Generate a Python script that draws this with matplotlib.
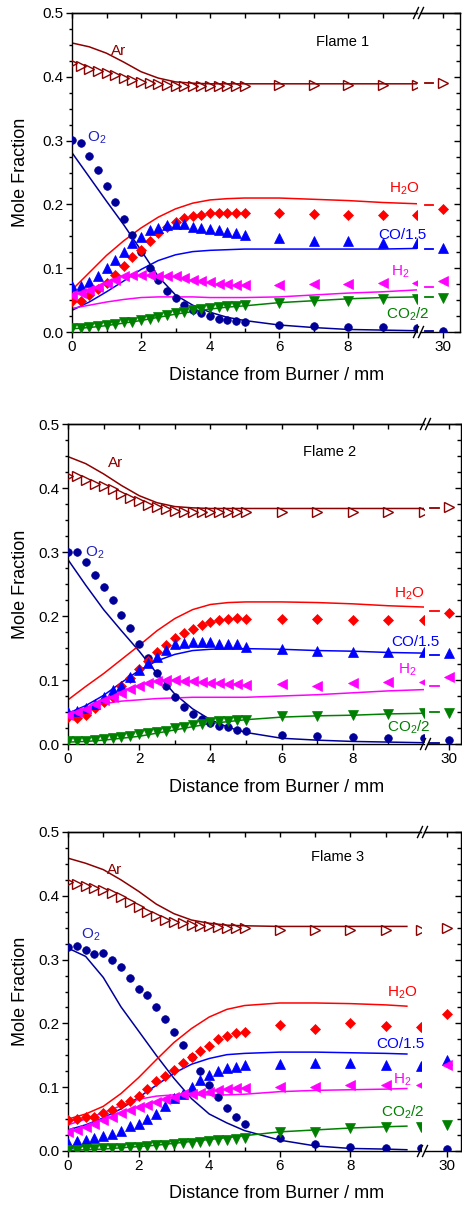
import matplotlib.pyplot as plt
from matplotlib.ticker import FixedLocator, MultipleLocator, FormatStrFormatter
from matplotlib.lines import Line2D

plt.rcParams['font.family'] = ['Liberation Sans', 'DejaVu Sans']
plt.rcParams['mathtext.fontset'] = 'custom'
plt.rcParams['mathtext.rm'] = 'Liberation Sans'
plt.rcParams['mathtext.it'] = 'Liberation Sans:italic'
plt.rcParams['mathtext.bf'] = 'Liberation Sans:bold'
plt.rcParams['axes.linewidth'] = 1.0

W, H = 462, 1207

# measured positions (mm), the last point is the one behind the axis break
x_exp = [0, 0.25, 0.5, 0.75, 1, 1.25, 1.5, 1.75, 2, 2.25, 2.5, 2.75, 3, 3.25, 3.5,
         3.75, 4, 4.25, 4.5, 4.75, 5, 6, 7, 8, 9, 10, 30]

# ---- Flame 1, measured
ar_exp1 = [0.421, 0.417, 0.413, 0.409, 0.406, 0.403, 0.398, 0.395, 0.392, 0.390, 0.388, 0.387, 0.386, 0.386,
           0.386, 0.386, 0.386, 0.386, 0.386, 0.386, 0.386, 0.387, 0.387, 0.387, 0.387, 0.387, 0.390]
o2_exp1 = [0.301, 0.296, 0.276, 0.254, 0.229, 0.203, 0.177, 0.152, 0.126, 0.101, 0.082, 0.064, 0.053, 0.042,
           0.034, 0.029, 0.025, 0.021, 0.019, 0.017, 0.016, 0.011, 0.009, 0.008, 0.008, 0.006, 0.002]
h2o_exp1 = [0.048, 0.049, 0.058, 0.067, 0.077, 0.089, 0.103, 0.117, 0.128, 0.142, 0.155, 0.165, 0.173, 0.178,
            0.182, 0.184, 0.186, 0.186, 0.186, 0.187, 0.186, 0.186, 0.185, 0.183, 0.184, 0.184, 0.193]
co_exp1 = [0.072, 0.072, 0.079, 0.088, 0.100, 0.113, 0.126, 0.139, 0.149, 0.160, 0.163, 0.168, 0.170, 0.170,
           0.165, 0.163, 0.161, 0.160, 0.157, 0.155, 0.152, 0.147, 0.143, 0.142, 0.140, 0.139, 0.132]
h2_exp1 = [0.058, 0.061, 0.066, 0.071, 0.077, 0.081, 0.087, 0.089, 0.089, 0.089, 0.088, 0.087, 0.087, 0.084,
           0.081, 0.080, 0.079, 0.076, 0.075, 0.074, 0.074, 0.074, 0.075, 0.076, 0.077, 0.077, 0.080]
co2_exp1 = [0.007, 0.007, 0.008, 0.009, 0.011, 0.012, 0.015, 0.016, 0.019, 0.021, 0.024, 0.027, 0.029, 0.032,
            0.034, 0.036, 0.037, 0.039, 0.040, 0.041, 0.042, 0.045, 0.048, 0.049, 0.051, 0.052, 0.054]

# ---- Flame 2, measured
ar_exp2 = [0.419, 0.418, 0.412, 0.407, 0.403, 0.398, 0.391, 0.384, 0.379, 0.373, 0.371, 0.367, 0.364, 0.363,
           0.363, 0.363, 0.363, 0.363, 0.363, 0.363, 0.363, 0.363, 0.363, 0.363, 0.363, 0.363, 0.370]
o2_exp2 = [0.300, 0.300, 0.284, 0.264, 0.246, 0.225, 0.202, 0.181, 0.156, 0.134, 0.111, 0.090, 0.073, 0.058,
           0.047, 0.039, 0.033, 0.028, 0.026, 0.022, 0.020, 0.014, 0.013, 0.011, 0.010, 0.010, 0.006]
h2o_exp2 = [0.042, 0.040, 0.045, 0.056, 0.065, 0.074, 0.090, 0.103, 0.117, 0.130, 0.143, 0.155, 0.165, 0.174,
            0.179, 0.186, 0.190, 0.193, 0.196, 0.197, 0.196, 0.196, 0.195, 0.194, 0.194, 0.194, 0.205]
co_exp2 = [0.050, 0.052, 0.057, 0.063, 0.073, 0.084, 0.091, 0.104, 0.116, 0.127, 0.136, 0.147, 0.156, 0.158,
           0.160, 0.160, 0.160, 0.157, 0.157, 0.157, 0.152, 0.148, 0.146, 0.144, 0.144, 0.143, 0.142]
h2_exp2 = [0.045, 0.050, 0.055, 0.062, 0.068, 0.074, 0.080, 0.086, 0.091, 0.096, 0.099, 0.100, 0.100, 0.099,
           0.098, 0.097, 0.096, 0.095, 0.094, 0.093, 0.092, 0.093, 0.091, 0.096, 0.097, 0.097, 0.104]
co2_exp2 = [0.004, 0.004, 0.005, 0.006, 0.008, 0.009, 0.011, 0.013, 0.015, 0.017, 0.019, 0.021, 0.025, 0.027,
            0.030, 0.032, 0.035, 0.036, 0.036, 0.038, 0.038, 0.043, 0.044, 0.045, 0.047, 0.048, 0.049]

# ---- Flame 3, measured
ar_exp3 = [0.421, 0.418, 0.415, 0.413, 0.409, 0.404, 0.398, 0.391, 0.383, 0.375, 0.368, 0.362, 0.359, 0.357,
           0.354, 0.353, 0.352, 0.351, 0.350, 0.349, 0.349, 0.346, 0.346, 0.346, 0.346, 0.346, 0.349]
o2_exp3 = [0.320, 0.322, 0.315, 0.309, 0.310, 0.300, 0.288, 0.271, 0.254, 0.245, 0.226, 0.207, 0.187, 0.166,
           0.147, 0.125, 0.103, 0.084, 0.068, 0.054, 0.043, 0.020, 0.011, 0.007, 0.005, 0.004, 0.003]
h2o_exp3 = [0.048, 0.050, 0.053, 0.054, 0.060, 0.064, 0.074, 0.078, 0.086, 0.097, 0.109, 0.118, 0.127, 0.138,
            0.148, 0.156, 0.164, 0.175, 0.180, 0.185, 0.187, 0.198, 0.192, 0.200, 0.196, 0.195, 0.215]
co_exp3 = [0.012, 0.016, 0.018, 0.021, 0.024, 0.027, 0.031, 0.039, 0.043, 0.050, 0.058, 0.071, 0.083, 0.090,
           0.100, 0.111, 0.119, 0.126, 0.130, 0.132, 0.135, 0.136, 0.138, 0.138, 0.135, 0.134, 0.142]
h2_exp3 = [0.030, 0.033, 0.038, 0.042, 0.049, 0.054, 0.059, 0.064, 0.069, 0.072, 0.077, 0.081, 0.085, 0.089,
           0.090, 0.091, 0.093, 0.096, 0.097, 0.098, 0.098, 0.100, 0.101, 0.103, 0.103, 0.103, 0.135]
co2_exp3 = [0.002, 0.002, 0.003, 0.003, 0.004, 0.004, 0.005, 0.006, 0.007, 0.008, 0.009, 0.010, 0.011, 0.012,
            0.013, 0.014, 0.015, 0.017, 0.018, 0.019, 0.021, 0.029, 0.030, 0.036, 0.037, 0.038, 0.041]

# ---- model curves
x_mod = [0, 0.5, 1, 1.5, 2, 2.5, 3, 3.5, 4, 4.5, 5, 6, 7, 8, 9, 10]
x_mod3 = [0, 0.5, 1, 1.5, 2, 2.5, 3, 3.5, 4, 4.5, 5, 6, 7, 8, 9, 9.6]

ar_mod1 = [0.453, 0.447, 0.437, 0.423, 0.408, 0.398, 0.392, 0.390, 0.389, 0.389, 0.389, 0.389, 0.389, 0.389, 0.389, 0.389]
o2_mod1 = [0.281, 0.243, 0.205, 0.168, 0.128, 0.087, 0.058, 0.042, 0.031, 0.023, 0.018, 0.011, 0.007, 0.004, 0.003, 0.002]
h2o_mod1 = [0.066, 0.093, 0.120, 0.143, 0.163, 0.180, 0.193, 0.202, 0.207, 0.209, 0.210, 0.210, 0.208, 0.206, 0.203, 0.201]
co_mod1 = [0.034, 0.047, 0.063, 0.080, 0.098, 0.112, 0.121, 0.126, 0.128, 0.129, 0.130, 0.130, 0.130, 0.130, 0.130, 0.131]
h2_mod1 = [0.037, 0.042, 0.047, 0.051, 0.054, 0.055, 0.055, 0.055, 0.054, 0.054, 0.054, 0.055, 0.058, 0.061, 0.063, 0.066]
co2_mod1 = [0.005, 0.007, 0.010, 0.014, 0.018, 0.023, 0.028, 0.032, 0.036, 0.039, 0.041, 0.046, 0.049, 0.052, 0.054, 0.055]

ar_mod2 = [0.449, 0.438, 0.422, 0.404, 0.388, 0.377, 0.371, 0.369, 0.368, 0.368, 0.368, 0.368, 0.368, 0.368, 0.368, 0.368]
o2_mod2 = [0.288, 0.248, 0.210, 0.177, 0.145, 0.110, 0.078, 0.055, 0.038, 0.026, 0.018, 0.009, 0.006, 0.004, 0.003, 0.002]
h2o_mod2 = [0.069, 0.090, 0.110, 0.132, 0.154, 0.177, 0.196, 0.210, 0.218, 0.221, 0.222, 0.222, 0.221, 0.219, 0.216, 0.214]
co_mod2 = [0.048, 0.060, 0.076, 0.096, 0.115, 0.130, 0.140, 0.146, 0.148, 0.149, 0.149, 0.148, 0.146, 0.145, 0.143, 0.142]
h2_mod2 = [0.045, 0.055, 0.063, 0.067, 0.069, 0.071, 0.072, 0.073, 0.073, 0.073, 0.073, 0.075, 0.077, 0.080, 0.083, 0.085]
co2_mod2 = [0.003, 0.004, 0.006, 0.009, 0.012, 0.017, 0.022, 0.027, 0.032, 0.035, 0.038, 0.042, 0.044, 0.045, 0.047, 0.048]

ar_mod3 = [0.459, 0.451, 0.441, 0.425, 0.407, 0.387, 0.372, 0.362, 0.357, 0.354, 0.353, 0.352, 0.352, 0.352, 0.352, 0.352]
o2_mod3 = [0.318, 0.305, 0.272, 0.226, 0.188, 0.150, 0.114, 0.082, 0.058, 0.044, 0.032, 0.017, 0.008, 0.004, 0.003, 0.002]
h2o_mod3 = [0.050, 0.058, 0.070, 0.090, 0.115, 0.143, 0.170, 0.192, 0.210, 0.222, 0.228, 0.232, 0.232, 0.231, 0.229, 0.227]
co_mod3 = [0.033, 0.041, 0.052, 0.066, 0.084, 0.103, 0.122, 0.136, 0.145, 0.151, 0.153, 0.155, 0.155, 0.154, 0.153, 0.152]
h2_mod3 = [0.041, 0.050, 0.060, 0.071, 0.081, 0.086, 0.088, 0.088, 0.088, 0.088, 0.089, 0.093, 0.095, 0.096, 0.097, 0.098]
co2_mod3 = [0.001, 0.002, 0.003, 0.005, 0.007, 0.009, 0.012, 0.015, 0.018, 0.021, 0.024, 0.030, 0.033, 0.036, 0.038, 0.039]

# model value shown as a short dash behind the break (flames 1 and 2)
dash_x = [29.48, 29.72]
mod_end1 = [0.390, 0.001, 0.199, 0.130, 0.070, 0.055]
mod_end2 = [0.368, 0.001, 0.208, 0.139, 0.091, 0.0495]

species = ['Ar', 'O2', 'H2O', 'CO', 'H2', 'CO2']
names = ['Ar', 'O$_2$', 'H$_2$O', 'CO/1.5', 'H$_2$', 'CO$_2$/2']
colors = ['#8b0000', '#000099', '#ff0000', '#0000ff', '#ff00ff', '#008000']
label_colors = ['#8b0000', '#2020c0', '#ff0000', '#0000ff', '#ff00ff', '#008000']
markers = ['>', 'o', 'D', '^', '<', 'v']
msizes = [6.5, 5.5, 5.5, 6.5, 6.5, 6.5]

# label positions (mm, mole fraction at baseline)
lab1 = [(1.35, 0.434), (0.72, 0.298), (9.62, 0.218), (9.57, 0.145), (9.51, 0.089), (9.74, 0.0215)]
lab2 = [(1.35, 0.433), (0.74, 0.293), (9.58, 0.229), (9.75, 0.153), (9.54, 0.110), (9.58, 0.019)]
lab3 = [(1.33, 0.434), (0.64, 0.333), (9.46, 0.242), (9.42, 0.161), (9.48, 0.106), (9.49, 0.054)]

fig = plt.figure(figsize=(W / 100, H / 100), dpi=100)


def fig_line(xs, ys):
    # pixel coordinates from the top-left corner
    fig.add_artist(Line2D([x / W for x in xs], [1 - y / H for y in ys],
                          color='black', lw=1.0, transform=fig.transFigure))


def draw_panel(geo, exp, mx, mod, mend, labs, title, title_pos):
    top, bot, x0, pxmm, right, p30 = geo
    end = x0 + 10 * pxmm
    gap = 3
    h = (bot - top) / H
    ax = fig.add_axes([x0 / W, 1 - bot / H, (end - x0) / W, h])
    ax2 = fig.add_axes([(end + gap) / W, 1 - bot / H, (right - end - gap) / W, h])
    ax.set_xlim(0, 10)
    ax2.set_xlim(30 - (p30 - end - gap) / pxmm, 30 + (right - p30) / pxmm)
    for a in (ax, ax2):
        a.set_ylim(0, 0.5)
        a.patch.set_alpha(0)

    for i in range(len(species)):
        c = colors[i]
        face = 'none' if species[i] == 'Ar' else c
        for a in (ax, ax2):
            a.plot(x_exp, exp[i], linestyle='none', marker=markers[i], ms=msizes[i],
                   mfc=face, mec=c, mew=1.0 if face == 'none' else 0.5, zorder=3)
        ax.plot(mx, mod[i], color=c, lw=1.1, zorder=2)
        if mend is not None:
            ax2.plot(dash_x, [mend[i], mend[i]], color=c, lw=1.3, zorder=2)
        ax.text(labs[i][0], labs[i][1], names[i], color=label_colors[i], fontsize=11,
                ha='center', va='baseline', zorder=5)
    ax.text(title_pos[0], title_pos[1], title, fontsize=10.5, ha='center', va='baseline')

    # left part
    ax.spines['right'].set_visible(False)
    ax.xaxis.set_major_locator(FixedLocator([0, 2, 4, 6, 8]))
    ax.xaxis.set_minor_locator(FixedLocator([1, 3, 5, 7, 9]))
    ax.yaxis.set_major_locator(MultipleLocator(0.1))
    ax.yaxis.set_minor_locator(MultipleLocator(0.025))
    ax.yaxis.set_major_formatter(FormatStrFormatter('%.1f'))
    ax.tick_params(axis='x', which='major', direction='out', length=4, width=1, labelsize=11, pad=2)
    ax.tick_params(axis='x', which='minor', direction='in', length=3, width=1)
    ax.tick_params(axis='y', which='major', direction='out', length=4, width=1, labelsize=11, pad=2)
    ax.tick_params(axis='y', which='minor', direction='out', length=2.5, width=1)
    sec = ax.secondary_xaxis('top')
    sec.set_xticks([0, 1, 2, 3, 4, 5, 6, 7, 8, 9])
    sec.tick_params(direction='in', length=3.5, width=1, labeltop=False)

    # part behind the break
    ax2.spines['left'].set_visible(False)
    ax2.xaxis.set_major_locator(FixedLocator([30]))
    ax2.xaxis.set_minor_locator(FixedLocator([]))
    ax2.tick_params(axis='x', which='major', direction='out', length=4, width=1, labelsize=11, pad=2)
    ax2.yaxis.tick_right()
    ax2.yaxis.set_major_locator(MultipleLocator(0.1))
    ax2.yaxis.set_minor_locator(MultipleLocator(0.025))
    ax2.tick_params(axis='y', which='major', direction='in', length=4.5, width=1, labelright=False)
    ax2.tick_params(axis='y', which='minor', direction='in', length=3, width=1)
    sec2 = ax2.secondary_xaxis('top')
    sec2.set_xticks([30])
    sec2.tick_params(direction='in', length=3.5, width=1, labeltop=False)

    # break marks
    bx = end + gap / 2
    for y in (top, bot):
        for dx in (-2.5, 2.5):
            fig_line([bx + dx - 2.5, bx + dx + 2.5], [y + 5.5, y - 5.5])

    fig.text(277 / W, 1 - (bot + 43) / H, 'Distance from Burner / mm', fontsize=13,
             ha='center', va='center')
    fig.text(21 / W, 1 - (top + bot) / 2 / H, 'Mole Fraction', fontsize=13,
             ha='center', va='center', rotation=90)


exp1 = [ar_exp1, o2_exp1, h2o_exp1, co_exp1, h2_exp1, co2_exp1]
exp2 = [ar_exp2, o2_exp2, h2o_exp2, co_exp2, h2_exp2, co2_exp2]
exp3 = [ar_exp3, o2_exp3, h2o_exp3, co_exp3, h2_exp3, co2_exp3]
mod1 = [ar_mod1, o2_mod1, h2o_mod1, co_mod1, h2_mod1, co2_mod1]
mod2 = [ar_mod2, o2_mod2, h2o_mod2, co_mod2, h2_mod2, co2_mod2]
mod3 = [ar_mod3, o2_mod3, h2o_mod3, co_mod3, h2_mod3, co2_mod3]

# (top, bottom, x of 0 mm, px per mm, right edge, x of 30 mm) in pixels
draw_panel((13, 332, 72, 34.5, 460, 443), exp1, x_mod, mod1, mod_end1, lab1, 'Flame 1', (7.83, 0.448))
draw_panel((424, 744, 68, 35.6, 461, 449), exp2, x_mod, mod2, mod_end2, lab2, 'Flame 2', (7.35, 0.450))
draw_panel((832, 1151, 68, 35.3, 461, 447), exp3, x_mod3, mod3, None, lab3, 'Flame 3', (7.65, 0.455))

fig.savefig('out.png', dpi=100)
